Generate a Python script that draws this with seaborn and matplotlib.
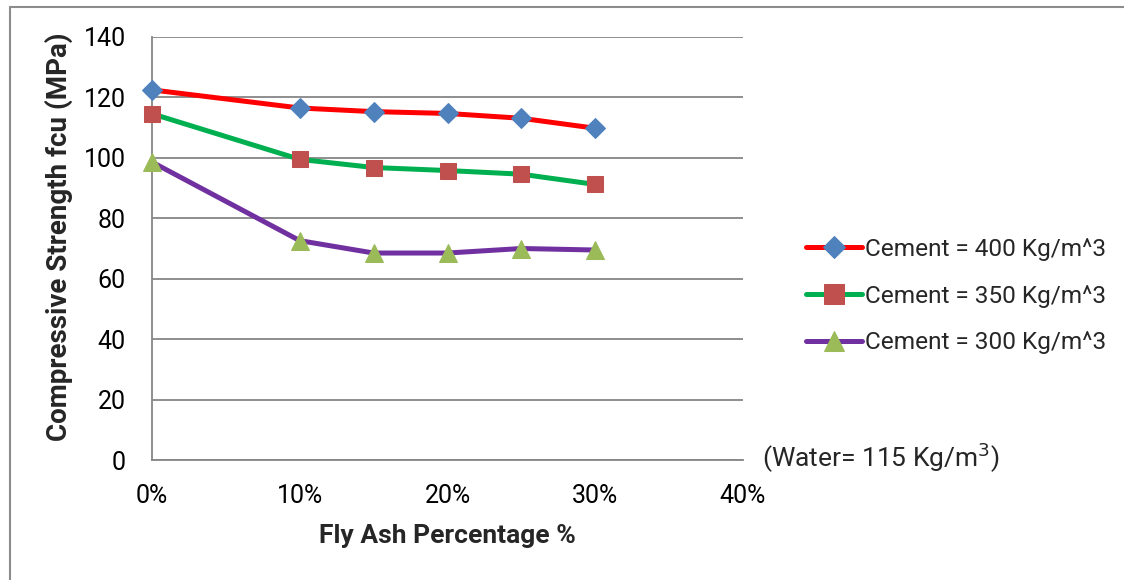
import matplotlib
matplotlib.use("Agg")
import matplotlib.pyplot as plt
import seaborn as sns
import pandas as pd
from matplotlib.lines import Line2D

fly_ash = [0, 10, 15, 20, 25, 30]
cement_400 = [122.5, 116.5, 115.3, 114.7, 113.1, 109.8]
cement_350 = [114.6, 99.5, 96.8, 95.8, 94.6, 91.2]
cement_300 = [98.6, 72.6, 68.5, 68.5, 70.0, 69.5]
labels = ["Cement = 400 Kg/m^3", "Cement = 350 Kg/m^3", "Cement = 300 Kg/m^3"]
y_ticks = [0, 20, 40, 60, 80, 100, 120, 140]
x_ticks = [0, 10, 20, 30, 40]
x_tick_labels = ["0%", "10%", "20%", "30%", "40%"]

sns.set_theme(style="white")
plt.rcParams['font.family'] = ['Roboto', 'DejaVu Sans']

fig = plt.figure(figsize=(11.24, 5.8), dpi=100)
# outer chart frame: only top and left edges are visible in the reference
fig.lines.append(Line2D([9.5/1124, 1.0], [1 - 6.5/580, 1 - 6.5/580], transform=fig.transFigure,
                        color='#8c8c8c', linewidth=1.5))
fig.lines.append(Line2D([9.5/1124, 9.5/1124], [0.0, 1 - 6.5/580], transform=fig.transFigure,
                        color='#8c8c8c', linewidth=1.5))

ax = fig.add_axes([152/1124, 1 - 460/580, (743 - 152)/1124, (460 - 37)/580])

styles = [
    (cement_400, '#FF0000', 'D', '#4F81BD', 10),
    (cement_350, '#00B050', 's', '#C0504D', 12),
    (cement_300, '#7030A0', '^', '#9BBB59', 13),
]
for (vals, lc, mk, mc, ms), lab in zip(styles, labels):
    df = pd.DataFrame({"x": fly_ash, "y": vals})
    sns.lineplot(data=df, x="x", y="y", ax=ax, color=lc, linewidth=3.6, marker=mk,
                 markerfacecolor=mc, markeredgecolor=mc, markersize=ms, label=lab,
                 clip_on=False, zorder=3)

ax.set_xlim(0, 40)
ax.set_ylim(0, 140)
ax.set_yticks(y_ticks)
ax.set_xticks(x_ticks)
ax.set_xticklabels(x_tick_labels)
ax.yaxis.grid(True, color='#868686', linewidth=1.3)
ax.xaxis.grid(False)
for s in ['top', 'right']:
    ax.spines[s].set_visible(False)
for s in ['left', 'bottom']:
    ax.spines[s].set_color('#868686')
    ax.spines[s].set_linewidth(1.3)
ax.tick_params(axis='both', which='major', direction='out', length=7, width=1.3,
               color='#868686', labelsize=18, labelcolor='black')
ax.tick_params(axis='y', pad=12)
ax.tick_params(axis='x', pad=10)

ax.set_xlabel("Fly Ash Percentage %", fontsize=19, fontweight='bold', labelpad=12)
ax.set_ylabel("Compressive Strength fcu (MPa)", fontsize=20, fontweight='bold')
ax.yaxis.set_label_coords(-(152 - 73) / 591, (460 - 237) / 423)

leg = ax.legend(loc='center left', bbox_to_anchor=(784/1124, 1 - 296/580),
                bbox_transform=fig.transFigure, frameon=False, fontsize=17.6,
                handlelength=2.3, handletextpad=0.12, labelspacing=0.98, numpoints=1,
                markerscale=1.15)

fig.text(762/1124, 1 - 458/580, "(Water= 115 Kg/m$^3$)", fontsize=19, va='center', ha='left')

fig.savefig("out.png", dpi=100)
